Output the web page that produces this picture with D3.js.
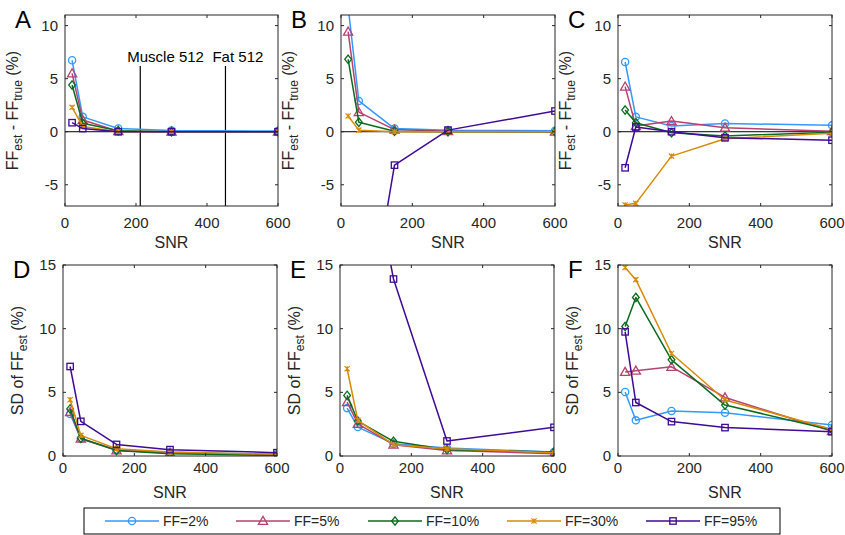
<!DOCTYPE html>
<html><head><meta charset="utf-8">
<script src="https://cdn.jsdelivr.net/npm/d3@7"></script>
<style>
body{margin:0;background:#fff}
svg text{font-family:"Liberation Sans",Arial,Helvetica,sans-serif;fill:#262626}
</style>
</head><body>
<svg id="chart" width="845" height="535"></svg>
<script>
// ---------- data ----------
const snr = [20, 50, 150, 300, 600];
const seriesNames = ["FF=2%", "FF=5%", "FF=10%", "FF=30%", "FF=95%"];
const seriesColors = ["#3399ff", "#b8416f", "#0a6b1e", "#d98a06", "#3e0a96"];
const seriesMarkers = ["circle", "triangle", "diamond", "x", "square"];

// bias (FF_est - FF_true, %)
const biasA = [
  [6.73, 1.4, 0.3, 0.12, 0.06],
  [5.5, 1.1, 0.05, 0.0, 0.0],
  [4.4, 0.8, 0.1, 0.0, 0.0],
  [2.3, 0.5, 0.0, 0.0, 0.0],
  [0.85, 0.3, 0.0, 0.0, 0.0]
];
const biasB = [
  [11.8, 2.9, 0.3, 0.15, 0.1],
  [9.43, 1.85, 0.2, 0.05, 0.0],
  [6.82, 0.9, 0.05, 0.0, 0.0],
  [1.48, 0.15, 0.0, 0.0, 0.0],
  [-30, -23, -3.15, 0.15, 1.95]
];
const biasC = [
  [6.57, 1.4, 0.53, 0.78, 0.6],
  [4.25, 0.53, 1.0, 0.38, 0.05],
  [2.04, 0.85, -0.1, -0.4, -0.05],
  [-6.9, -6.75, -2.3, -0.66, -0.15],
  [-3.4, 0.44, 0.0, -0.57, -0.8]
];
// SD of FF_est (%)
const sdD = [
  [3.3, 1.35, 0.5, 0.3, 0.13],
  [3.45, 1.36, 0.44, 0.26, 0.05],
  [3.7, 1.4, 0.44, 0.18, 0.05],
  [4.42, 1.62, 0.57, 0.31, 0.13],
  [7.03, 2.72, 0.91, 0.5, 0.26]
];
const sdE = [
  [3.76, 2.27, 0.97, 0.63, 0.31],
  [4.23, 2.53, 0.89, 0.44, 0.18],
  [4.76, 2.74, 1.15, 0.5, 0.31],
  [6.85, 2.8, 0.89, 0.57, 0.26],
  [40, 28.6, 13.9, 1.18, 2.25]
];
const sdF = [
  [5.03, 2.8, 3.54, 3.4, 2.44],
  [6.6, 6.7, 7.0, 4.6, 1.95],
  [10.17, 12.45, 7.55, 4.0, 2.05],
  [14.8, 13.85, 8.05, 4.4, 2.1],
  [9.75, 4.2, 2.7, 2.23, 1.91]
];

const xTicks = [0, 200, 400, 600];
const biasTicks = [-5, 0, 5, 10];
const sdTicks = [0, 5, 10, 15];
const refLines = [{label: "Muscle 512", snr: 212}, {label: "Fat 512", snr: 452}];
const refLineTop = 6.2;

// ---------- layout ----------
const svg = d3.select("#chart");
const colsTop = [[65, 278], [341, 555], [618, 832]];
const colsBot = [[63, 277], [340, 554], [618, 832]];
const rowTop = [206, 15], rowBot = [456, 265];
const axisColor = "#262626";

const panels = [
  {id: "A", data: biasA, cols: colsTop[0], rows: rowTop, ydom: [-7, 11], yt: biasTicks, kind: "bias", ref: true, tickOff: 22},
  {id: "B", data: biasB, cols: colsTop[1], rows: rowTop, ydom: [-7, 11], yt: biasTicks, kind: "bias", tickOff: 22},
  {id: "C", data: biasC, cols: colsTop[2], rows: rowTop, ydom: [-7, 11], yt: biasTicks, kind: "bias", tickOff: 22},
  {id: "D", data: sdD, cols: colsBot[0], rows: rowBot, ydom: [0, 15], yt: sdTicks, kind: "sd", tickOff: 17},
  {id: "E", data: sdE, cols: colsBot[1], rows: rowBot, ydom: [0, 15], yt: sdTicks, kind: "sd", tickOff: 17},
  {id: "F", data: sdF, cols: colsBot[2], rows: rowBot, ydom: [0, 15], yt: sdTicks, kind: "sd", tickOff: 17}
];

function drawMarker(g, type, cx, cy, color) {
  if (type === "circle") {
    g.append("circle").attr("cx", cx).attr("cy", cy).attr("r", 3.6)
      .attr("fill", "none").attr("stroke", color).attr("stroke-width", 1.3);
  } else if (type === "triangle") {
    const s = 4.6;
    g.append("path").attr("d", `M${cx},${cy - s}L${cx + s},${cy + s * 0.75}L${cx - s},${cy + s * 0.75}Z`)
      .attr("fill", "none").attr("stroke", color).attr("stroke-width", 1.3);
  } else if (type === "diamond") {
    const s = 4.2;
    g.append("path").attr("d", `M${cx},${cy - s}L${cx + s * 0.8},${cy}L${cx},${cy + s}L${cx - s * 0.8},${cy}Z`)
      .attr("fill", "none").attr("stroke", color).attr("stroke-width", 1.3);
  } else if (type === "square") {
    const s = 3.2;
    g.append("rect").attr("x", cx - s).attr("y", cy - s).attr("width", 2 * s).attr("height", 2 * s)
      .attr("fill", "none").attr("stroke", color).attr("stroke-width", 1.3);
  } else if (type === "x") {
    const s = 2.6;
    g.append("path").attr("d", `M${cx - s},${cy - s}L${cx + s},${cy + s}M${cx - s},${cy + s}L${cx + s},${cy - s}M${cx},${cy - s}L${cx},${cy + s}`)
      .attr("fill", "none").attr("stroke", color).attr("stroke-width", 1.2);
  }
}

panels.forEach((p, pi) => {
  const x = d3.scaleLinear().domain([0, 600]).range(p.cols);
  const y = d3.scaleLinear().domain(p.ydom).range(p.rows);
  const [x0, x1] = p.cols, [y0, y1] = p.rows;
  const g = svg.append("g");
  const clipId = "clip" + p.id;
  svg.append("clipPath").attr("id", clipId).append("rect")
    .attr("x", x0).attr("y", y1).attr("width", x1 - x0).attr("height", y0 - y1);

  const plot = g.append("g").attr("clip-path", `url(#${clipId})`);

  // zero line
  if (p.kind === "bias") {
    plot.append("line").attr("x1", x0).attr("x2", x1).attr("y1", y(0)).attr("y2", y(0))
      .attr("stroke", "#000").attr("stroke-width", 1);
  }
  // reference lines
  if (p.ref) {
    refLines.forEach(r => {
      plot.append("line").attr("x1", x(r.snr)).attr("x2", x(r.snr))
        .attr("y1", y(refLineTop)).attr("y2", y(p.ydom[0]))
        .attr("stroke", "#000").attr("stroke-width", 1.2);
      g.append("text").attr("x", x(r.snr) - 13).attr("y", y(refLineTop) - 4)
        .attr("font-size", 15).style("fill", "#000").text(r.label);
    });
  }
  const line = d3.line().x((d, i) => x(snr[i])).y(d => y(d));
  p.data.forEach((vals, si) => {
    plot.append("path").attr("d", line(vals)).attr("fill", "none")
      .attr("stroke", seriesColors[si]).attr("stroke-width", 1.5).attr("stroke-linejoin", "round");
    vals.forEach((v, i) => {
      if (v >= p.ydom[0] - 0.3 && v <= p.ydom[1] + 0.3) drawMarker(plot, seriesMarkers[si], x(snr[i]), y(v), seriesColors[si]);
    });
  });

  // box
  g.append("rect").attr("x", x0).attr("y", y1).attr("width", x1 - x0).attr("height", y0 - y1)
    .attr("fill", "none").attr("stroke", axisColor).attr("stroke-width", 1);
  // ticks
  const tl = 3;
  xTicks.forEach(t => {
    g.append("line").attr("x1", x(t)).attr("x2", x(t)).attr("y1", y0).attr("y2", y0 - tl).attr("stroke", axisColor);
    g.append("line").attr("x1", x(t)).attr("x2", x(t)).attr("y1", y1).attr("y2", y1 + tl).attr("stroke", axisColor);
    g.append("text").attr("x", x(t)).attr("y", y0 + p.tickOff).attr("text-anchor", "middle")
      .attr("font-size", 15).text(t);
  });
  p.yt.forEach(t => {
    g.append("line").attr("x1", x0).attr("x2", x0 + tl).attr("y1", y(t)).attr("y2", y(t)).attr("stroke", axisColor);
    g.append("line").attr("x1", x1).attr("x2", x1 - tl).attr("y1", y(t)).attr("y2", y(t)).attr("stroke", axisColor);
    g.append("text").attr("x", x0 - 7).attr("y", y(t) + 5).attr("text-anchor", "end")
      .attr("font-size", 15).text(t);
  });
  // x label
  g.append("text").attr("x", (x0 + x1) / 2).attr("y", y0 + 42).attr("text-anchor", "middle")
    .attr("font-size", 16).text("SNR");
  // y label
  const cy = (y0 + y1) / 2;
  if (p.kind === "bias") {
    const lx = x0 - 47;
    const t = g.append("text").attr("transform", `translate(${lx},${cy}) rotate(-90)`)
      .attr("text-anchor", "middle").attr("font-size", 16);
    t.append("tspan").text("FF");
    t.append("tspan").attr("dy", 4).attr("font-size", 12).text("est");
    t.append("tspan").attr("dy", -4).text(" - FF");
    t.append("tspan").attr("dy", 4).attr("font-size", 12).text("true");
    t.append("tspan").attr("dy", -4).text(" (%)");
  } else {
    const lx = x0 - 40;
    const t = g.append("text").attr("transform", `translate(${lx},${cy}) rotate(-90)`)
      .attr("text-anchor", "middle").attr("font-size", 16);
    t.append("tspan").text("SD of FF");
    t.append("tspan").attr("dy", 4).attr("font-size", 12).text("est");
    t.append("tspan").attr("dy", -4).text(" (%)");
  }
  // panel letter
  g.append("text").attr("x", x0 - 50).attr("y", y1 + 13).attr("font-size", 24)
    .style("fill", "#000").text(p.id);
});

// ---------- legend ----------
const leg = svg.append("g");
leg.append("rect").attr("x", 84).attr("y", 508).attr("width", 696).attr("height", 26)
  .attr("fill", "#fff").attr("stroke", "#000").attr("stroke-width", 1);
const legX = [105, 236, 368, 507, 646];
seriesNames.forEach((n, i) => {
  const lx = legX[i], ly = 521;
  leg.append("line").attr("x1", lx).attr("x2", lx + 54).attr("y1", ly).attr("y2", ly)
    .attr("stroke", seriesColors[i]).attr("stroke-width", 1.5);
  drawMarker(leg, seriesMarkers[i], lx + 27, ly, seriesColors[i]);
  leg.append("text").attr("x", lx + 58).attr("y", ly + 5).attr("font-size", 14).text(n);
});
</script>
</body></html>
